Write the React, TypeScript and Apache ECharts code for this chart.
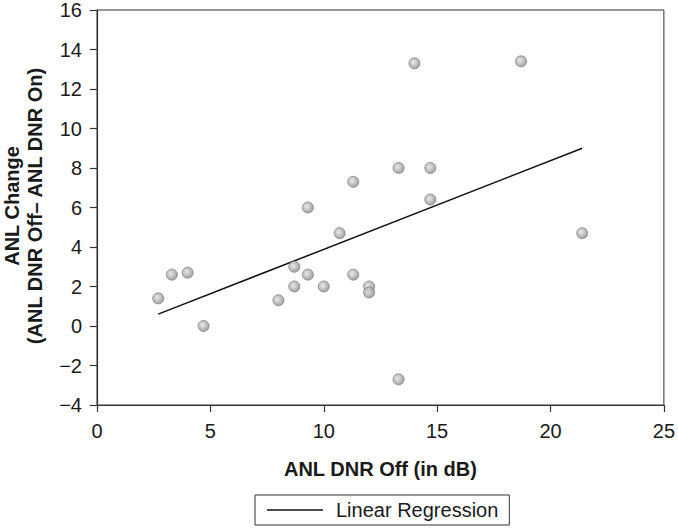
import React, { useEffect, useRef } from "react";
import * as echarts from "echarts";

const xValues = [2.7, 3.3, 4.0, 4.7, 8.0, 8.7, 8.7, 9.3, 9.3, 10.0, 10.7, 11.3, 11.3, 12.0, 12.0, 13.3, 13.3, 14.0, 14.7, 14.7, 18.7, 21.4];
const yValues = [1.4, 2.6, 2.7, 0.0, 1.3, 3.0, 2.0, 2.6, 6.0, 2.0, 4.7, 7.3, 2.6, 2.0, 1.7, 8.0, -2.7, 13.3, 8.0, 6.4, 13.4, 4.7];
const regressionX = [2.7, 21.4];
const regressionY = [0.6, 9.0];
const xTicks = [0, 5, 10, 15, 20, 25];
const yTicks = [-4, -2, 0, 2, 4, 6, 8, 10, 12, 14, 16];

const FONT = "'Liberation Sans', Arial, Helvetica, sans-serif";

export default function App() {
  const ref = useRef<HTMLDivElement>(null);
  useEffect(() => {
    if (!ref.current) return;
    const chart = echarts.init(ref.current, null, { renderer: "svg" });
    const scatterData = xValues.map((x, i) => [x, yValues[i]]);
    const lineData = regressionX.map((x, i) => [x, regressionY[i]]);
    chart.setOption({
      animation: false,
      backgroundColor: "#ffffff",
      textStyle: { fontFamily: FONT },
      grid: {
        left: 97,
        right: 11,
        top: 7,
        bottom: 123,
        show: true,
        borderColor: "#333",
        borderWidth: 1,
        containLabel: false,
      },
      xAxis: {
        type: "value",
        min: xTicks[0],
        max: xTicks[xTicks.length - 1],
        interval: 5,
        splitLine: { show: false },
        axisLine: { show: true, onZero: false, lineStyle: { color: "#333", width: 1.2 } },
        axisTick: { show: true, length: 7, lineStyle: { color: "#333", width: 1.2 } },
        axisLabel: { color: "#1a1a1a", fontSize: 20, margin: 16, fontFamily: FONT },
        name: "ANL DNR Off (in dB)",
        nameLocation: "middle",
        nameGap: 54,
        nameTextStyle: { color: "#1a1a1a", fontSize: 20, fontWeight: "bold", fontFamily: FONT },
      },
      yAxis: {
        type: "value",
        min: yTicks[0],
        max: yTicks[yTicks.length - 1],
        interval: 2,
        splitLine: { show: false },
        axisLine: { show: true, onZero: false, lineStyle: { color: "#333", width: 1.2 } },
        axisTick: { show: true, length: 7, lineStyle: { color: "#333", width: 1.2 } },
        axisLabel: {
          color: "#1a1a1a",
          fontSize: 20,
          margin: 15,
          fontFamily: FONT,
          formatter: (v: number) => (v < 0 ? "\u2212" + Math.abs(v) : String(v)),
        },
      },
      legend: {
        show: true,
        bottom: 3,
        left: 255,
        data: [{ name: "Linear Regression", icon: "rect" }],
        itemWidth: 56,
        itemHeight: 1.5,
        itemGap: 12,
        padding: [5, 11, 5, 12],
        borderColor: "#333",
        borderWidth: 1,
        borderRadius: 0,
        textStyle: { color: "#1a1a1a", fontSize: 20, fontFamily: FONT, padding: [0, 0, 0, 8] },
      },
      graphic: [
        {
          type: "text",
          x: 12,
          y: 206,
          rotation: Math.PI / 2,
          style: {
            text: "ANL Change",
            fill: "#1a1a1a",
            font: `bold 20px ${FONT}`,
            textAlign: "center",
            textVerticalAlign: "middle",
          },
        },
        {
          type: "text",
          x: 35,
          y: 206,
          rotation: Math.PI / 2,
          style: {
            text: "(ANL DNR Off\u2013 ANL DNR On)",
            fill: "#1a1a1a",
            font: `bold 20px ${FONT}`,
            textAlign: "center",
            textVerticalAlign: "middle",
          },
        },
      ],
      series: [
        {
          name: "Linear Regression",
          type: "line",
          data: lineData,
          symbol: "none",
          lineStyle: { color: "#111", width: 1.5 },
          itemStyle: { color: "#111" },
          z: 2,
        },
        {
          name: "Data",
          type: "scatter",
          data: scatterData,
          symbol: "circle",
          symbolSize: 11,
          itemStyle: {
            color: new echarts.graphic.RadialGradient(0.4, 0.4, 0.6, [
              { offset: 0, color: "#e4e4e4" },
              { offset: 1, color: "#8c8c8c" },
            ]),
            borderColor: "#858585",
            borderWidth: 1,
          },
          z: 3,
        },
      ],
    });
    return () => chart.dispose();
  }, []);
  return <div ref={ref} style={{ width: 678, height: 528, position: "absolute", left: 0, top: 0 }} />;
}
